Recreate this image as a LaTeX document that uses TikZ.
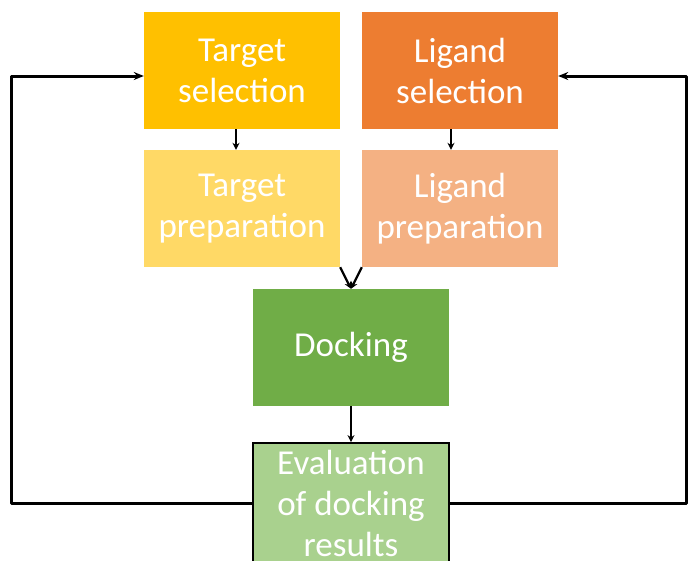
\documentclass[tikz,border=0pt]{standalone}
\usepackage{fontspec}
\setmainfont{Carlito}
\usetikzlibrary{arrows.meta}
\definecolor{tselcol}{HTML}{FFC000}
\definecolor{lselcol}{HTML}{ED7D31}
\definecolor{tprepcol}{HTML}{FFD966}
\definecolor{lprepcol}{HTML}{F4B183}
\definecolor{dockcol}{HTML}{70AD47}
\definecolor{evalcol}{HTML}{A9D18E}

\begin{document}
\begin{tikzpicture}[
  x=1pt, y=1pt,
  stage/.style={rectangle, minimum width=196pt, minimum height=117pt, inner sep=0pt, align=center, text=white, font=\fontsize{35}{41}\selectfont},
  link/.style={-{Stealth[length=7pt,width=7pt]}, line width=2.2pt},
  feedback/.style={-{Stealth[length=10pt,width=8pt]}, line width=3pt, line join=round},
  node distance=138pt
]
\useasboundingbox (0,0) rectangle (688,-560);
\clip (0,0) rectangle (688,-560);

\node[stage, fill=tselcol] at (242,-70.5) (tsel) {Target\\selection};
\node[stage, fill=lselcol, right of=tsel, node distance=218pt] (lsel) {Ligand\\selection};
\node[stage, fill=tprepcol, below of=tsel] (tprep) {Target\\preparation};
\node[stage, fill=lprepcol, below of=lsel] (lprep) {Ligand\\preparation};
\node[stage, fill=dockcol] at (351,-347.5) (dock) {Docking};
\node[stage, fill=evalcol, draw=black, line width=1.8pt, minimum height=120pt, below of=dock, node distance=155.5pt] (eval) {Evaluation\\of docking\\results};

\coordinate (lturn) at (11,-76);
\coordinate (rturn) at (686,-76);

\draw[link] ([xshift=-6pt]tsel.south) -- ([xshift=-6pt]tprep.north);
\draw[link] ([xshift=-9pt]lsel.south) -- ([xshift=-9pt]lprep.north);
\draw[link] (tprep.south east) -- (dock.north);
\draw[link] (lprep.south west) -- (dock.north);
\draw[link] (dock.south) -- (eval.north);

\draw[feedback] (eval.west) -- (eval.west -| lturn) -- (lturn) -- (tsel.west |- lturn);
\draw[feedback] (eval.east) -- (eval.east -| rturn) -- (rturn) -- (lsel.east |- rturn);
\end{tikzpicture}
\end{document}
